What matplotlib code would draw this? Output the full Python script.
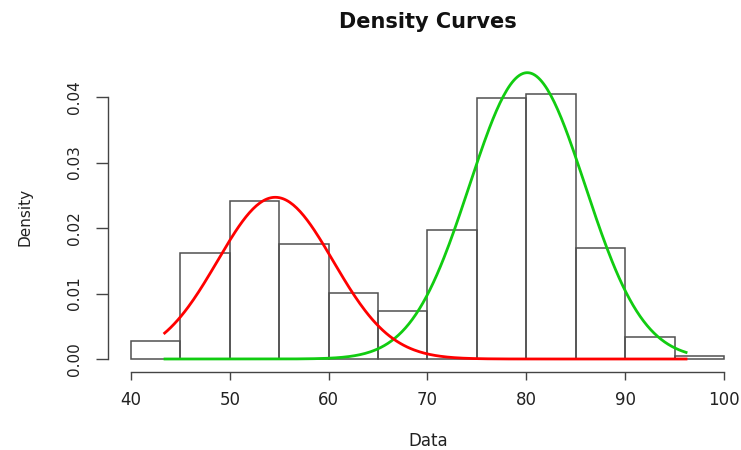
import numpy as np
import matplotlib
matplotlib.use("Agg")
import matplotlib.pyplot as plt

# ---- data ----
bin_edges = [40, 45, 50, 55, 60, 65, 70, 75, 80, 85, 90, 95, 100]
bin_density = [0.0028, 0.0162, 0.0241, 0.0176, 0.0101, 0.0074,
               0.0197, 0.0399, 0.0404, 0.0169, 0.0034, 0.0005]

# fitted mixture components (mean, sd, weight)
comp_means = [54.6, 80.1]
comp_sds = [5.85, 5.85]
comp_weights = [0.362, 0.641]
comp_colors = ["#ff0000", "#11cc11"]
comp_order = [1, 0]  # green drawn first, red on top
curve_from, curve_to = 43.3, 96.3

x_ticks = [40, 50, 60, 70, 80, 90, 100]
y_ticks = [0.00, 0.01, 0.02, 0.03, 0.04]
y_ticklabels = ["0.00", "0.01", "0.02", "0.03", "0.04"]

# ---- figure ----
W, H = 741, 450
fig = plt.figure(figsize=(W / 100, H / 100), dpi=100)
plt.rcParams['font.family'] = ['DejaVu Sans']

# pixel mapping measured on the reference
px_x40, px_per_unit = 131.0, 9.883
px_y0, px_per_yunit = 359.0, 6550.0
ax_left_px, ax_right_px = 108.0, 741.0
ax_top_px, ax_bot_px = 52.0, 372.0

ax = fig.add_axes([ax_left_px / W, 1 - ax_bot_px / H,
                   (ax_right_px - ax_left_px) / W, (ax_bot_px - ax_top_px) / H])
ax.set_xlim(40 + (ax_left_px - px_x40) / px_per_unit, 40 + (ax_right_px - px_x40) / px_per_unit)
ax.set_ylim((px_y0 - ax_bot_px) / px_per_yunit, (px_y0 - ax_top_px) / px_per_yunit)
ax.patch.set_alpha(0)

# histogram
lefts = bin_edges[:-1]
widths = np.diff(bin_edges)
ax.bar(lefts, bin_density, width=widths, align='edge', fill=False,
       edgecolor='#505050', linewidth=1.1)

# density curves
xs = np.linspace(curve_from, curve_to, 300)
for i in comp_order:
    m, s, w = comp_means[i], comp_sds[i], comp_weights[i]
    ys = w * np.exp(-0.5 * ((xs - m) / s) ** 2) / (s * np.sqrt(2 * np.pi))
    ax.plot(xs, ys, color=comp_colors[i], linewidth=2.0, solid_capstyle='butt')

# R-style axes
for side in ['top', 'right']:
    ax.spines[side].set_visible(False)
ax.spines['left'].set_bounds(y_ticks[0], y_ticks[-1])
ax.spines['bottom'].set_bounds(x_ticks[0], x_ticks[-1])
for side in ['left', 'bottom']:
    ax.spines[side].set_color('#444444')
    ax.spines[side].set_linewidth(1.0)

ax.set_xticks(x_ticks)
ax.set_xticklabels([str(t) for t in x_ticks])
ax.set_yticks(y_ticks)
ax.set_yticklabels(y_ticklabels, rotation=90, va='center')
ax.tick_params(axis='x', length=6, width=1.0, color='#444444', labelsize=12,
               labelcolor='#222222', pad=8)
ax.tick_params(axis='y', length=8.5, width=1.0, color='#444444', labelsize=11,
               labelcolor='#222222', pad=10)

fig.text(25 / W, 1 - 217 / H, "Density", rotation=90, ha='center', va='center',
         fontsize=11, color='#222222')
fig.text(428 / W, 1 - 441 / H, "Data", ha='center', va='center',
         fontsize=12, color='#222222')
fig.text(428 / W, 1 - 22 / H, "Density Curves", ha='center', va='center',
         fontsize=15, fontweight='bold', color='#111111')

fig.savefig("out.png", dpi=100)
